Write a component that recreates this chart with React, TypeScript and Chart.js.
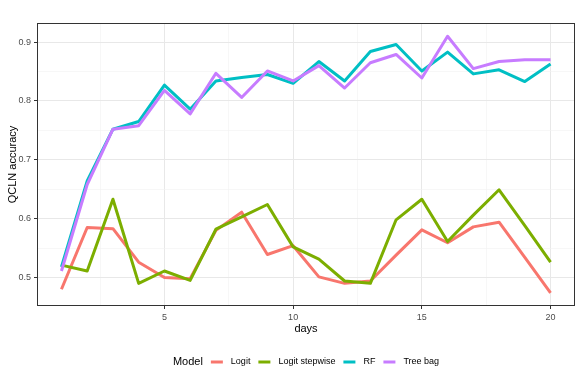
import React, { useEffect, useRef } from "react";
import { Chart, registerables } from "chart.js";

Chart.register(...registerables);

const days = [1, 2, 3, 4, 5, 6, 7, 8, 9, 10, 11, 12, 13, 14, 15, 16, 17, 18, 19, 20];
const logit = [0.480, 0.585, 0.583, 0.526, 0.500, 0.498, 0.580, 0.611, 0.539, 0.554, 0.501, 0.490, 0.494, 0.538, 0.581, 0.559, 0.586, 0.594, 0.534, 0.474];
const logitStepwise = [0.521, 0.511, 0.633, 0.490, 0.511, 0.495, 0.582, 0.603, 0.624, 0.552, 0.531, 0.494, 0.490, 0.598, 0.633, 0.561, 0.606, 0.649, 0.588, 0.526];
const rf = [0.518, 0.664, 0.752, 0.765, 0.827, 0.786, 0.834, 0.840, 0.845, 0.830, 0.867, 0.834, 0.884, 0.896, 0.851, 0.883, 0.846, 0.853, 0.833, 0.863];
const treeBag = [0.511, 0.658, 0.752, 0.758, 0.818, 0.778, 0.847, 0.806, 0.851, 0.834, 0.860, 0.822, 0.865, 0.879, 0.839, 0.910, 0.855, 0.867, 0.870, 0.870];

const seriesNames = ["Logit", "Logit stepwise", "RF", "Tree bag"];
const seriesValues = [logit, logitStepwise, rf, treeBag];
const seriesColors = ["#F8766D", "#7CAE00", "#00BFC4", "#C77CFF"];

const xTicks = [2.5, 5, 7.5, 10, 12.5, 15, 17.5, 20];
const yTicks = [0.5, 0.55, 0.6, 0.65, 0.7, 0.75, 0.8, 0.85, 0.9];

const legendTitle = "Model";
const xTitle = "days";
const yTitle = "QCLN accuracy";

const FONT = "'Liberation Sans', Arial, Helvetica, sans-serif";

const isMajorX = (v: number) => Math.abs(v / 5 - Math.round(v / 5)) < 1e-6;
const isMajorY = (v: number) => Math.abs(v * 10 - Math.round(v * 10)) < 1e-6;

const borderPlugin = {
  id: "panelBorder",
  afterDatasetsDraw(chart: any) {
    const { ctx, chartArea: ca } = chart;
    ctx.save();
    ctx.strokeStyle = "#333333";
    ctx.lineWidth = 1;
    const l = Math.round(ca.left) + 0.5;
    const t = Math.round(ca.top) + 0.5;
    const r = Math.round(ca.right) - 0.5;
    const b = Math.round(ca.bottom) - 0.5;
    ctx.strokeRect(l, t, r - l, b - t);
    ctx.restore();
  },
};

const legendPlugin = {
  id: "ggLegend",
  afterDraw(chart: any) {
    const { ctx, chartArea: ca } = chart;
    ctx.save();
    ctx.textBaseline = "middle";
    ctx.textAlign = "left";
    const y = ca.bottom + 56;
    const keyW = 12;
    const gap = 8;
    ctx.font = `11px ${FONT}`;
    const titleW = ctx.measureText(legendTitle).width;
    ctx.font = `9px ${FONT}`;
    const textW = seriesNames.map((n) => ctx.measureText(n).width);
    let total = titleW;
    textW.forEach((w) => {
      total += gap + keyW + gap + w;
    });
    let x = (ca.left + ca.right) / 2 - total / 2;
    ctx.fillStyle = "#000000";
    ctx.font = `11px ${FONT}`;
    ctx.fillText(legendTitle, x, y);
    x += titleW;
    ctx.font = `9px ${FONT}`;
    seriesNames.forEach((n, i) => {
      x += gap;
      ctx.strokeStyle = seriesColors[i];
      ctx.lineWidth = 3;
      ctx.lineCap = "butt";
      ctx.beginPath();
      ctx.moveTo(x, y);
      ctx.lineTo(x + keyW, y);
      ctx.stroke();
      x += keyW + gap;
      ctx.fillStyle = "#000000";
      ctx.fillText(n, x, y);
      x += textW[i];
    });
    ctx.restore();
  },
};

export default function App() {
  const canvasRef = useRef<HTMLCanvasElement | null>(null);

  useEffect(() => {
    if (!canvasRef.current) return;
    const chart = new Chart(canvasRef.current, {
      type: "line",
      data: {
        datasets: seriesNames.map((name, i) => ({
          label: name,
          data: days.map((d, j) => ({ x: d, y: seriesValues[i][j] })),
          borderColor: seriesColors[i],
          backgroundColor: seriesColors[i],
          borderWidth: 3,
          pointRadius: 0,
          tension: 0,
          fill: false,
          borderJoinStyle: "round" as const,
          borderCapStyle: "butt" as const,
          order: seriesNames.length - i,
        })),
      },
      options: {
        animation: false,
        responsive: false,
        devicePixelRatio: 1,
        layout: { padding: { top: 23, right: 5, bottom: 44, left: 0 } },
        plugins: {
          legend: { display: false },
          tooltip: { enabled: false },
        },
        scales: {
          x: {
            type: "linear",
            min: 0.05,
            max: 20.95,
            afterBuildTicks: (s: any) => {
              s.ticks = xTicks.map((v) => ({ value: v }));
            },
            afterFit: (s: any) => {
              s.height = 30;
            },
            border: { display: false },
            grid: {
              color: (c: any) => (isMajorX(c.tick.value) ? "#e8e8e8" : "#f2f2f2"),
              lineWidth: (c: any) => (isMajorX(c.tick.value) ? 1 : 0.6),
              drawTicks: true,
              tickLength: 3,
              tickWidth: 1,
              tickColor: (c: any) => (isMajorX(c.tick.value) ? "#333333" : "rgba(0,0,0,0)"),
            },
            ticks: {
              autoSkip: false,
              maxRotation: 0,
              padding: 3,
              color: "#4d4d4d",
              font: { family: FONT, size: 9 },
              callback: (v: any) => (isMajorX(Number(v)) ? String(v) : ""),
            },
            title: {
              display: true,
              text: xTitle,
              color: "#000000",
              font: { family: FONT, size: 11 },
              padding: { top: 0, bottom: 0 },
            },
          },
          y: {
            type: "linear",
            min: 0.4515,
            max: 0.9325,
            afterBuildTicks: (s: any) => {
              s.ticks = yTicks.map((v) => ({ value: v }));
            },
            afterFit: (s: any) => {
              s.width = 37;
            },
            border: { display: false },
            grid: {
              color: (c: any) => (isMajorY(c.tick.value) ? "#e8e8e8" : "#f2f2f2"),
              lineWidth: (c: any) => (isMajorY(c.tick.value) ? 1 : 0.6),
              drawTicks: true,
              tickLength: 3,
              tickWidth: 1,
              tickColor: (c: any) => (isMajorY(c.tick.value) ? "#333333" : "rgba(0,0,0,0)"),
            },
            ticks: {
              autoSkip: false,
              padding: 3,
              color: "#4d4d4d",
              font: { family: FONT, size: 9 },
              callback: (v: any) => (isMajorY(Number(v)) ? Number(v).toFixed(1) : ""),
            },
            title: {
              display: true,
              text: yTitle,
              color: "#000000",
              font: { family: FONT, size: 11 },
              padding: { top: 6, bottom: 0 },
            },
          },
        },
      },
      plugins: [borderPlugin, legendPlugin],
    } as any);
    return () => chart.destroy();
  }, []);

  return (
    <div style={{ position: "fixed", left: 0, top: 0, width: 580, height: 380, background: "#ffffff" }}>
      <canvas ref={canvasRef} width={580} height={380} style={{ width: 580, height: 380, display: "block" }} />
    </div>
  );
}
